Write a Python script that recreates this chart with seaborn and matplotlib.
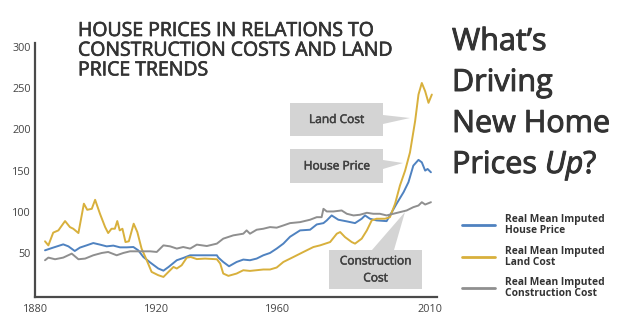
import matplotlib
matplotlib.use("Agg")
import matplotlib.pyplot as plt
import matplotlib.patheffects as pe
import seaborn as sns
import pandas as pd
from matplotlib.patches import Rectangle, Polygon

# ---- data -------------------------------------------------------------
house_years = [1883.3, 1886.0, 1889.3, 1891.0, 1893.1, 1894.8, 1897.0, 1899.2, 1901.4,
               1903.6, 1905.8, 1908.0, 1910.2, 1912.4, 1914.0, 1915.7, 1917.9, 1920.6,
               1922.3, 1924.0, 1926.7, 1928.8, 1931.1, 1939.9, 1940.4, 1942.0, 1943.9,
               1946.4, 1948.6, 1950.8, 1953.0, 1955.2, 1957.4, 1959.6, 1961.8, 1964.0,
               1967.3, 1970.6, 1972.8, 1975.0, 1976.1, 1977.7, 1979.9, 1982.7, 1985.4,
               1987.6, 1988.7, 1990.3, 1992.5, 1995.8, 1996.9, 1999.1, 2001.4, 2003.0,
               2004.6, 2006.3, 2007.4, 2008.5, 2009.3, 2010.4]
house_price = [53.6, 56.9, 60.8, 58.4, 52.8, 56.9, 59.6, 62.4, 60.5,
               58.4, 59.3, 57.2, 57.2, 57.6, 53.6, 45.5, 39.0, 31.6,
               29.0, 33.5, 41.6, 44.3, 47.6, 47.6, 44.8, 39.5, 34.3,
               39.5, 42.4, 41.6, 43.6, 47.6, 50.4, 55.7, 61.7, 70.0,
               77.7, 78.5, 84.9, 86.5, 89.8, 95.8, 90.6, 88.6, 86.5,
               91.8, 95.8, 91.8, 89.8, 88.9, 95.8, 110.0, 124.0, 136.0,
               156.0, 163.0, 160.0, 150.0, 152.0, 148.0]

land_years = [1883.3, 1884.4, 1886.0, 1887.7, 1889.9, 1891.5, 1892.6, 1894.3, 1896.1,
              1897.2, 1898.7, 1899.8, 1901.4, 1903.1, 1904.1, 1905.2, 1906.3, 1907.1,
              1907.9, 1908.8, 1909.8, 1910.9, 1912.5, 1913.7, 1915.1, 1916.8, 1918.4,
              1920.6, 1922.3, 1925.6, 1926.7, 1928.3, 1930.0, 1931.3, 1933.3, 1936.0,
              1939.9, 1941.0, 1942.0, 1943.7, 1946.4, 1948.6, 1950.8, 1955.2, 1957.4,
              1959.6, 1961.8, 1965.1, 1968.4, 1971.7, 1973.9, 1977.2, 1979.4, 1980.5,
              1982.1, 1984.3, 1985.4, 1987.6, 1989.3, 1990.9, 1992.5, 1995.3, 1996.9,
              1998.6, 2000.2, 2001.9, 2003.5, 2005.2, 2006.3, 2007.4, 2008.5, 2009.6,
              2010.7]
land_cost = [64.5, 59.6, 75.0, 77.7, 89.0, 81.7, 79.7, 74.5, 110.0,
             102.6, 103.8, 114.7, 97.8, 81.7, 74.5, 79.7, 79.7, 89.0,
             77.7, 79.7, 63.6, 64.5, 85.8, 75.7, 55.7, 41.6, 27.5,
             23.5, 21.4, 33.5, 31.6, 35.5, 44.8, 45.5, 43.0, 43.6,
             42.8, 37.6, 25.5, 22.7, 25.5, 29.5, 28.7, 30.4, 30.4,
             32.8, 39.5, 45.5, 51.6, 57.6, 59.6, 63.6, 73.7, 75.7,
             69.6, 63.6, 61.7, 67.7, 77.7, 89.8, 91.8, 91.8, 93.7,
             110.0, 132.0, 150.0, 172.0, 210.0, 242.0, 256.0, 246.0, 232.0,
             242.0]

constr_years = [1883.3, 1884.4, 1886.6, 1889.3, 1892.1, 1894.3, 1896.5, 1899.2, 1902.0,
                1904.1, 1906.9, 1909.1, 1911.3, 1914.6, 1917.9, 1920.1, 1922.3, 1924.5,
                1926.7, 1928.8, 1931.1, 1933.3, 1936.6, 1939.9, 1942.0, 1945.3, 1948.6,
                1949.7, 1950.8, 1953.0, 1955.2, 1957.4, 1959.6, 1961.8, 1964.0, 1967.3,
                1970.6, 1972.8, 1974.4, 1975.0, 1976.1, 1978.3, 1981.0, 1982.7, 1984.9,
                1987.0, 1989.3, 1991.4, 1993.6, 1995.8, 1998.0, 2000.2, 2002.4, 2004.6,
                2006.3, 2007.4, 2008.5, 2009.6, 2010.4]
constr_cost = [41.6, 44.8, 42.8, 44.8, 49.6, 42.8, 43.6, 47.6, 50.4,
               51.6, 47.6, 50.4, 52.4, 52.4, 52.4, 51.6, 59.6, 58.4,
               55.7, 57.6, 55.7, 60.5, 58.8, 61.7, 67.7, 71.7, 73.7,
               77.7, 73.7, 78.5, 79.7, 81.7, 81.0, 83.7, 86.5, 87.7,
               90.6, 93.7, 93.7, 103.8, 100.6, 100.6, 101.8, 97.8, 95.8,
               96.6, 99.0, 97.8, 97.8, 95.8, 97.8, 99.8, 101.8, 105.8,
               107.8, 111.8, 109.0, 110.6, 111.8]

series_labels = ["Real Mean Imputed\nHouse Price",
                 "Real Mean Imputed\nLand Cost",
                 "Real Mean Imputed\nConstruction Cost"]
series_colors = ["#4f82c0", "#d8b03c", "#8f8f8f"]
x_ticks = [1880, 1920, 1960, 2010]
y_ticks = [50, 100, 150, 200, 250, 300]

df = pd.concat([
    pd.DataFrame({"year": house_years, "value": house_price, "series": series_labels[0]}),
    pd.DataFrame({"year": land_years, "value": land_cost, "series": series_labels[1]}),
    pd.DataFrame({"year": constr_years, "value": constr_cost, "series": series_labels[2]}),
])

# ---- style ------------------------------------------------------------
sns.set_style("white")
plt.rcParams["font.family"] = ["Open Sans", "DejaVu Sans"]
TXT = "#333333"

W, H = 624, 332
fig = plt.figure(figsize=(W / 100, H / 100), dpi=100)
fig.patch.set_facecolor("white")


def fx(x):
    return x / W


def fy(y):
    return 1 - y / H


def heavier(width, color=TXT):
    # thin outline in the text colour gives a medium weight
    return [pe.withStroke(linewidth=width, foreground=color)]


ax = fig.add_axes([fx(35), fy(296.7), fx(437) - fx(35), fy(43.3) - fy(296.7)])
sns.lineplot(data=df, x="year", y="value", hue="series", palette=series_colors,
             hue_order=series_labels, linewidth=1.4, sort=False, legend=False, ax=ax)

ax.set_xlim(1880, 2012.4)
ax.set_ylim(-2.5, 304)
ax.set_xticks(x_ticks)
ax.set_yticks(y_ticks)
ax.set_xlabel("")
ax.set_ylabel("")
ax.tick_params(axis="both", length=0, labelsize=7.8, labelcolor="#444444")
ax.tick_params(axis="x", pad=5)
ax.tick_params(axis="y", pad=3)
for side in ("top", "right"):
    ax.spines[side].set_visible(False)
for side in ("left", "bottom"):
    ax.spines[side].set_color("#4a4a4a")
    ax.spines[side].set_linewidth(1.6)
ax.grid(False)

# ---- headings ---------------------------------------------------------
fig.text(fx(78), fy(22), "HOUSE PRICES IN RELATIONS TO\nCONSTRUCTION COSTS AND LAND\nPRICE TRENDS",
         ha="left", va="top", fontsize=14.0, color=TXT, linespacing=1.12,
         path_effects=heavier(0.5))

big = dict(fontsize=22, color=TXT, ha="left", va="baseline", path_effects=heavier(0.7))
fig.text(fx(452), fy(50), "What\u2019s", **big)
fig.text(fx(452), fy(91), "Driving", **big)
fig.text(fx(452), fy(132), "New Home", **big)
t1 = fig.text(fx(452), fy(173), "Prices ", **big)
fig.canvas.draw()
r = fig.canvas.get_renderer()
x_up = t1.get_window_extent(r).x1
t2 = fig.text(x_up / W, fy(173), "Up", style="italic", **big)
x_q = t2.get_window_extent(r).x1
fig.text(x_q / W, fy(173), "?", **big)

# ---- callouts ---------------------------------------------------------
BOX = "#d4d4d4"


def callout(x0, y0, x1, y1, text, pointer):
    fig.patches.append(Rectangle((fx(x0), fy(y1)), fx(x1) - fx(x0), fy(y0) - fy(y1),
                                 transform=fig.transFigure, facecolor=BOX,
                                 edgecolor="none", zorder=3))
    fig.patches.append(Polygon([(fx(px), fy(py)) for px, py in pointer], closed=True,
                               transform=fig.transFigure, facecolor=BOX,
                               edgecolor="none", zorder=3))
    fig.text(fx((x0 + x1) / 2), fy((y0 + y1) / 2), text, ha="center", va="center",
             fontsize=8.6, color="#404040", linespacing=1.4, zorder=4,
             path_effects=heavier(0.35, "#404040"))


callout(290, 103, 383, 136, "Land Cost", [(383, 115), (383, 124), (410, 118)])
callout(290, 149, 383, 183, "House Price", [(383, 160), (383, 169), (403, 163)])
callout(329, 250, 422, 289, "Construction\nCost", [(372, 250), (394, 250), (405, 212)])

# ---- legend -----------------------------------------------------------
for yy, lab, col in zip([225, 257, 288], series_labels, series_colors):
    fig.lines.append(plt.Line2D([fx(462), fx(495)], [fy(yy), fy(yy)],
                                transform=fig.transFigure, color=col, linewidth=2.0))
    fig.text(fx(505), fy(yy), lab, ha="left", va="center", fontsize=7.4,
             fontweight="bold", color="#333333", linespacing=1.1)

fig.savefig("out.png", dpi=100, facecolor="white")
